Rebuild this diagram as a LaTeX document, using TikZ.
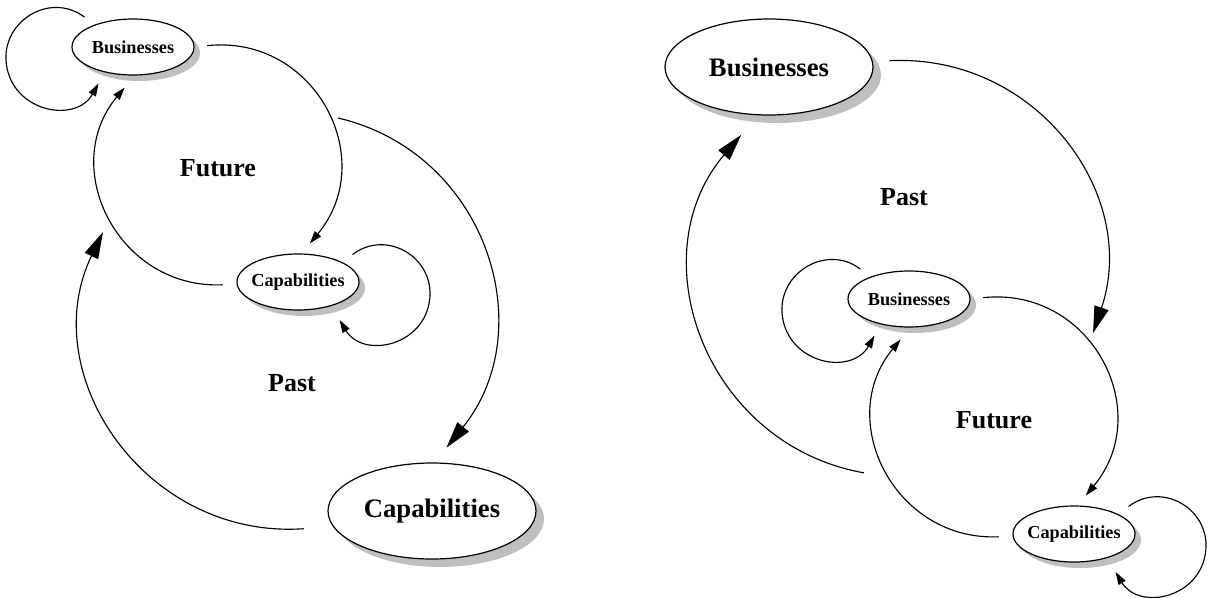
\documentclass[tikz,border=0pt]{standalone}
\usepackage{fontspec}
\setmainfont{Liberation Serif}
\usetikzlibrary{arrows.meta, shapes.geometric, shadows}
\tikzset{
    smallstate/.style={
        ellipse, draw=black, fill=white, line width=0.9pt,
        minimum width=91.5pt, minimum height=42pt,
        inner xsep=-3pt, inner ysep=0pt,
        font=\fontsize{13.7}{16}\selectfont\bfseries,
        drop shadow={shadow xshift=4.5pt, shadow yshift=-4.5pt, fill=black!25, opacity=1}
    },
    bigstate/.style={
        ellipse, draw=black, fill=white, line width=0.9pt,
        minimum width=156pt, minimum height=72pt, inner sep=0pt,
        font=\fontsize{20}{24}\selectfont\bfseries,
        drop shadow={shadow xshift=6pt, shadow yshift=-6pt, fill=black!25, opacity=1}
    },
    cyclelabel/.style={font=\fontsize{19.5}{23}\selectfont\bfseries},
    flow/.style={-{Triangle[length=9.5pt, width=6pt]}, line width=0.85pt},
    bigflow/.style={-{Triangle[length=20pt, width=11pt]}, line width=0.85pt}
}
\begin{document}
\begin{tikzpicture}[x=0.75pt, y=-0.75pt]
    \useasboundingbox (0,0) rectangle (1209,597);

    % left: future cycle inside, past cycle outside
    \node[smallstate] (busL) at (133,47) {Businesses};
    \node[smallstate] (capL) at (298,282) {Capabilities};
    \node[bigstate] (capBig) at (432,511) {Capabilities};
    \node[cyclelabel] (futL) at (218,168) {Future};
    \node[cyclelabel] (pastL) at (292,383) {Past};

    \draw[flow, shorten <=9.4pt, shorten >=9.5pt] (busL.150)
        .. controls (49.4,-9.6) and (-2.2,22.9) .. (7,68)
        .. controls (16.2,113.1) and (76.3,122.8) .. (busL.222);
    \draw[flow, shorten <=9.4pt, shorten >=9.75pt] (busL.east)
        .. controls (314.9,34.1) and (380,159.2) .. (capL.83);
    \draw[flow, shorten <=10.4pt, shorten >=11.6pt] (capL.182)
        .. controls (118.6,289.5) and (57.9,167.9) .. (busL.273);
    \draw[flow, shorten <=9.5pt, shorten >=12.2pt] (capL.24)
        .. controls (387.4,227.9) and (437.6,259.2) .. (429.1,303.3)
        .. controls (420.6,347.4) and (362.4,357.8) .. (capL.324);

    \coordinate (pastLstart) at (338,118);
    \coordinate (pastLend) at (103,232);
    \draw[bigflow, shorten >=14.2pt] (pastLstart)
        .. controls (486.3,152.7) and (541.9,329.2) .. (capBig.87);
    \draw[bigflow, shorten <=22pt] (capBig.189)
        .. controls (146,539.6) and (34.1,375) .. (pastLend);

    % right: past cycle outside, future cycle inside
    \node[bigstate] (busBig) at (769,67) {Businesses};
    \node[cyclelabel] (pastR) at (904,197) {Past};

    \coordinate (pastRend) at (1093,333);
    \coordinate (pastRstart) at (863.9,472.8);
    \draw[bigflow, shorten <=12.5pt] (busBig.3)
        .. controls (1035.6,53.4) and (1140,194) .. (pastRend);
    \draw[bigflow, shorten >=19.2pt] (pastRstart)
        .. controls (705.9,444.9) and (637.6,256.4) .. (busBig.257);

    \begin{scope}[shift={(776,252)}]
        \node[smallstate] (busR) at (133,47) {Businesses};
        \node[smallstate] (capR) at (298,282) {Capabilities};
        \node[cyclelabel] (futR) at (218,168) {Future};

        \draw[flow, shorten <=9.4pt, shorten >=9.5pt] (busR.150)
            .. controls (49.4,-9.6) and (-2.2,22.9) .. (7,68)
            .. controls (16.2,113.1) and (76.3,122.8) .. (busR.222);
        \draw[flow, shorten <=9.4pt, shorten >=9.75pt] (busR.east)
            .. controls (314.9,34.1) and (380,159.2) .. (capR.83);
        \draw[flow, shorten <=10.4pt, shorten >=11.6pt] (capR.182)
            .. controls (118.6,289.5) and (57.9,167.9) .. (busR.273);
        \draw[flow, shorten <=9.5pt, shorten >=12.2pt] (capR.24)
            .. controls (387.4,227.9) and (437.6,259.2) .. (429.1,303.3)
            .. controls (420.6,347.4) and (362.4,357.8) .. (capR.324);
    \end{scope}
\end{tikzpicture}
\end{document}
